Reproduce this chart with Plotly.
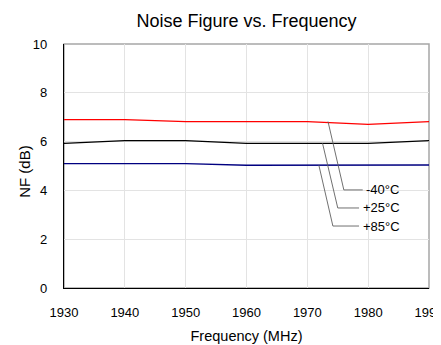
import plotly.graph_objects as go

freq = [1930, 1940, 1950, 1960, 1970, 1980, 1990]
nf_m40 = [6.90, 6.90, 6.82, 6.82, 6.82, 6.71, 6.82]
nf_p25 = [5.93, 6.04, 6.04, 5.93, 5.93, 5.93, 6.04]
nf_p85 = [5.10, 5.10, 5.10, 5.03, 5.04, 5.04, 5.04]

series_names = ["-40°C", "+25°C", "+85°C"]
series_colors = ["#ff0000", "#000000", "#000080"]

# leader lines: curve point -> elbow -> end, and label anchor
leader_x = [[1973.4, 1976.0, 1979.1], [1972.5, 1975.0, 1978.5], [1971.9, 1974.2, 1978.5]]
leader_y = [[6.82, 4.02, 4.02], [5.93, 3.28, 3.28], [5.03, 2.54, 2.54]]
label_x = [1979.3, 1978.9, 1978.9]

font = "Liberation Sans, Arial, sans-serif"

fig = go.Figure()
for name, ys, col in zip(series_names, [nf_m40, nf_p25, nf_p85], series_colors):
    fig.add_trace(go.Scatter(x=freq, y=ys, mode="lines", name=name,
                             line=dict(color=col, width=1.3)))

for lx, ly, tx, name in zip(leader_x, leader_y, label_x, series_names):
    fig.add_trace(go.Scatter(x=lx, y=ly, mode="lines", showlegend=False,
                             line=dict(color="#606060", width=0.9), hoverinfo="skip"))
    fig.add_annotation(x=tx, y=ly[-1], text=name, showarrow=False, xanchor="left",
                       font=dict(size=13, color="#000000", family=font))

# y axis title placed by hand (plotly's standoff can't get it close enough)
fig.add_annotation(text="NF (dB)", xref="paper", yref="paper", x=-0.107, y=0.48,
                   textangle=-90, showarrow=False, xanchor="center", yanchor="middle",
                   font=dict(size=15, color="#000000", family=font))

fig.add_shape(type="rect", xref="paper", yref="paper", x0=0, y0=0, x1=1, y1=1,
              line=dict(color="#a6a6a6", width=1.5), layer="below")

# page body has an 8px margin, so the figure is a bit smaller than the window
fig.update_layout(
    width=433, height=337,
    margin=dict(l=56, r=12, t=36, b=57),
    paper_bgcolor="white", plot_bgcolor="white",
    showlegend=False,
    font=dict(family=font, size=13, color="#000000"),
    title=dict(text="Noise Figure vs. Frequency", x=0.5, xref="paper", xanchor="center",
               yref="container", y=0.963, yanchor="middle", font=dict(size=18, color="#000000")),
)
fig.update_xaxes(range=[1930, 1990], dtick=10, showgrid=True, gridcolor="#e3e3e3",
                 showline=True, linecolor="#000000", linewidth=1.3, zeroline=False,
                 ticklabelstandoff=12, ticklabeloverflow="allow", automargin=False,
                 title=dict(text="Frequency (MHz)", standoff=12, font=dict(size=14.5)))
fig.update_yaxes(range=[0, 10], dtick=2, showgrid=True, gridcolor="#e3e3e3",
                 showline=True, linecolor="#000000", linewidth=1.3, zeroline=False,
                 ticklabelstandoff=13, automargin=False)

fig.write_html("out.html")
